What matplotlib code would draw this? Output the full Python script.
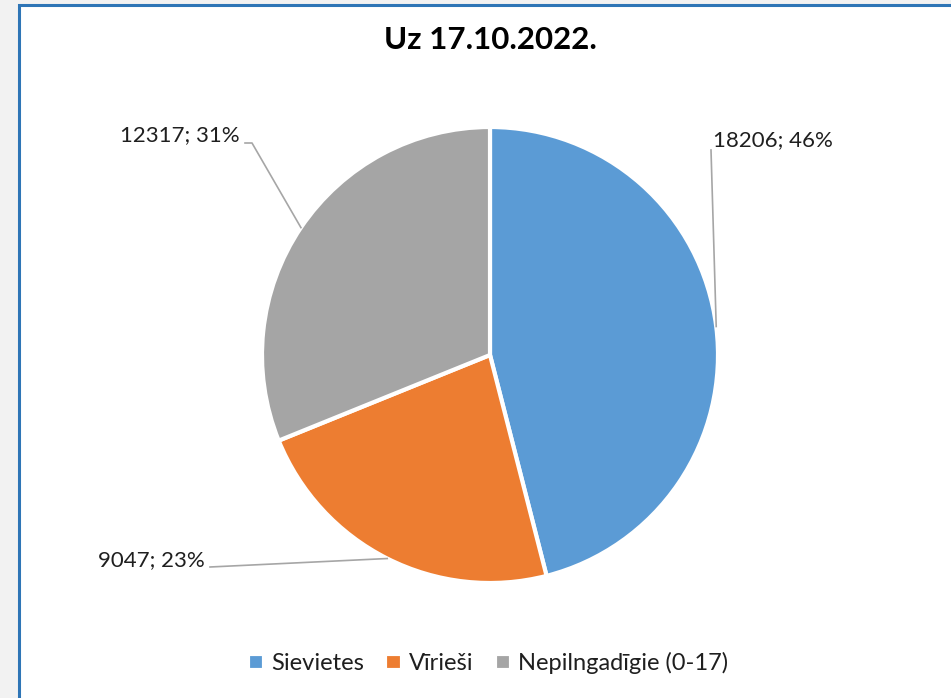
import numpy as np
import matplotlib
matplotlib.use("Agg")
import matplotlib.pyplot as plt
from matplotlib.patches import Rectangle

# ---------- data ----------
title = "Uz 17.10.2022."
categories = ["Sievietes", "Vīrieši", "Nepilngadīgie (0-17)"]
values = [18206, 9047, 12317]
colors = ["#5B9BD5", "#ED7D31", "#A5A5A5"]

plt.rcParams["font.family"] = ["Lato", "DejaVu Sans"]

W, H = 951, 698
fig = plt.figure(figsize=(W / 100, H / 100), dpi=100, facecolor="#f2f2f2")


def fx(px):
    return px / W


def fy(py):
    return 1 - py / H


# chart frame (white area with blue border)
fig.patches.append(Rectangle((fx(19), fy(710)), fx(960) - fx(19), fy(5) - fy(710),
                             transform=fig.transFigure, facecolor="white",
                             edgecolor="#2E75B6", linewidth=2.2, zorder=-10))

fig.text(fx(490), fy(40), title, ha="center", va="center", fontsize=22.5, fontweight="bold")

# pie axes: center (490, 355), radius 228 px
cx, cy, R = 490, 355, 228
ax = fig.add_axes([fx(cx - R), fy(cy + R), 2 * R / W, 2 * R / H])

wedges, _ = ax.pie(values, colors=colors, startangle=90, counterclock=False,
                   radius=1, wedgeprops={"edgecolor": "white", "linewidth": 3})
ax.set_xlim(-1, 1)
ax.set_ylim(-1, 1)
ax.axis("off")


def to_d(px, py):
    return (px - cx) / R, (cy - py) / R


total = sum(values)
# label layout: (text anchor px, ha, leader path px)
label_layout = [
    ((713, 140), "left", [(711, 150)]),
    ((205, 560), "right", [(210, 567)]),
    ((240, 135), "right", [(252, 143), (245, 143)]),
]
for w, v, (tpos, ha, path) in zip(wedges, values, label_layout):
    mid = np.deg2rad((w.theta1 + w.theta2) / 2)
    pts = [(np.cos(mid), np.sin(mid))] + [to_d(*p) for p in path]
    xs, ys = zip(*pts)
    ax.plot(xs, ys, color="#a6a6a6", lw=1.2, clip_on=False)
    tx, ty = to_d(*tpos)
    ax.text(tx, ty, f"{v}; {v / total * 100:.0f}%", ha=ha, va="center",
            fontsize=16, color="#1f1f1f", clip_on=False)

fig.legend(wedges, categories, loc="center", bbox_to_anchor=(fx(488), fy(663)),
           ncol=3, frameon=False, fontsize=17, handlelength=0.7, handleheight=0.7,
           handletextpad=0.3, columnspacing=0.9, labelcolor="#1f1f1f")

fig.savefig("out.png", dpi=100, facecolor=fig.get_facecolor())
